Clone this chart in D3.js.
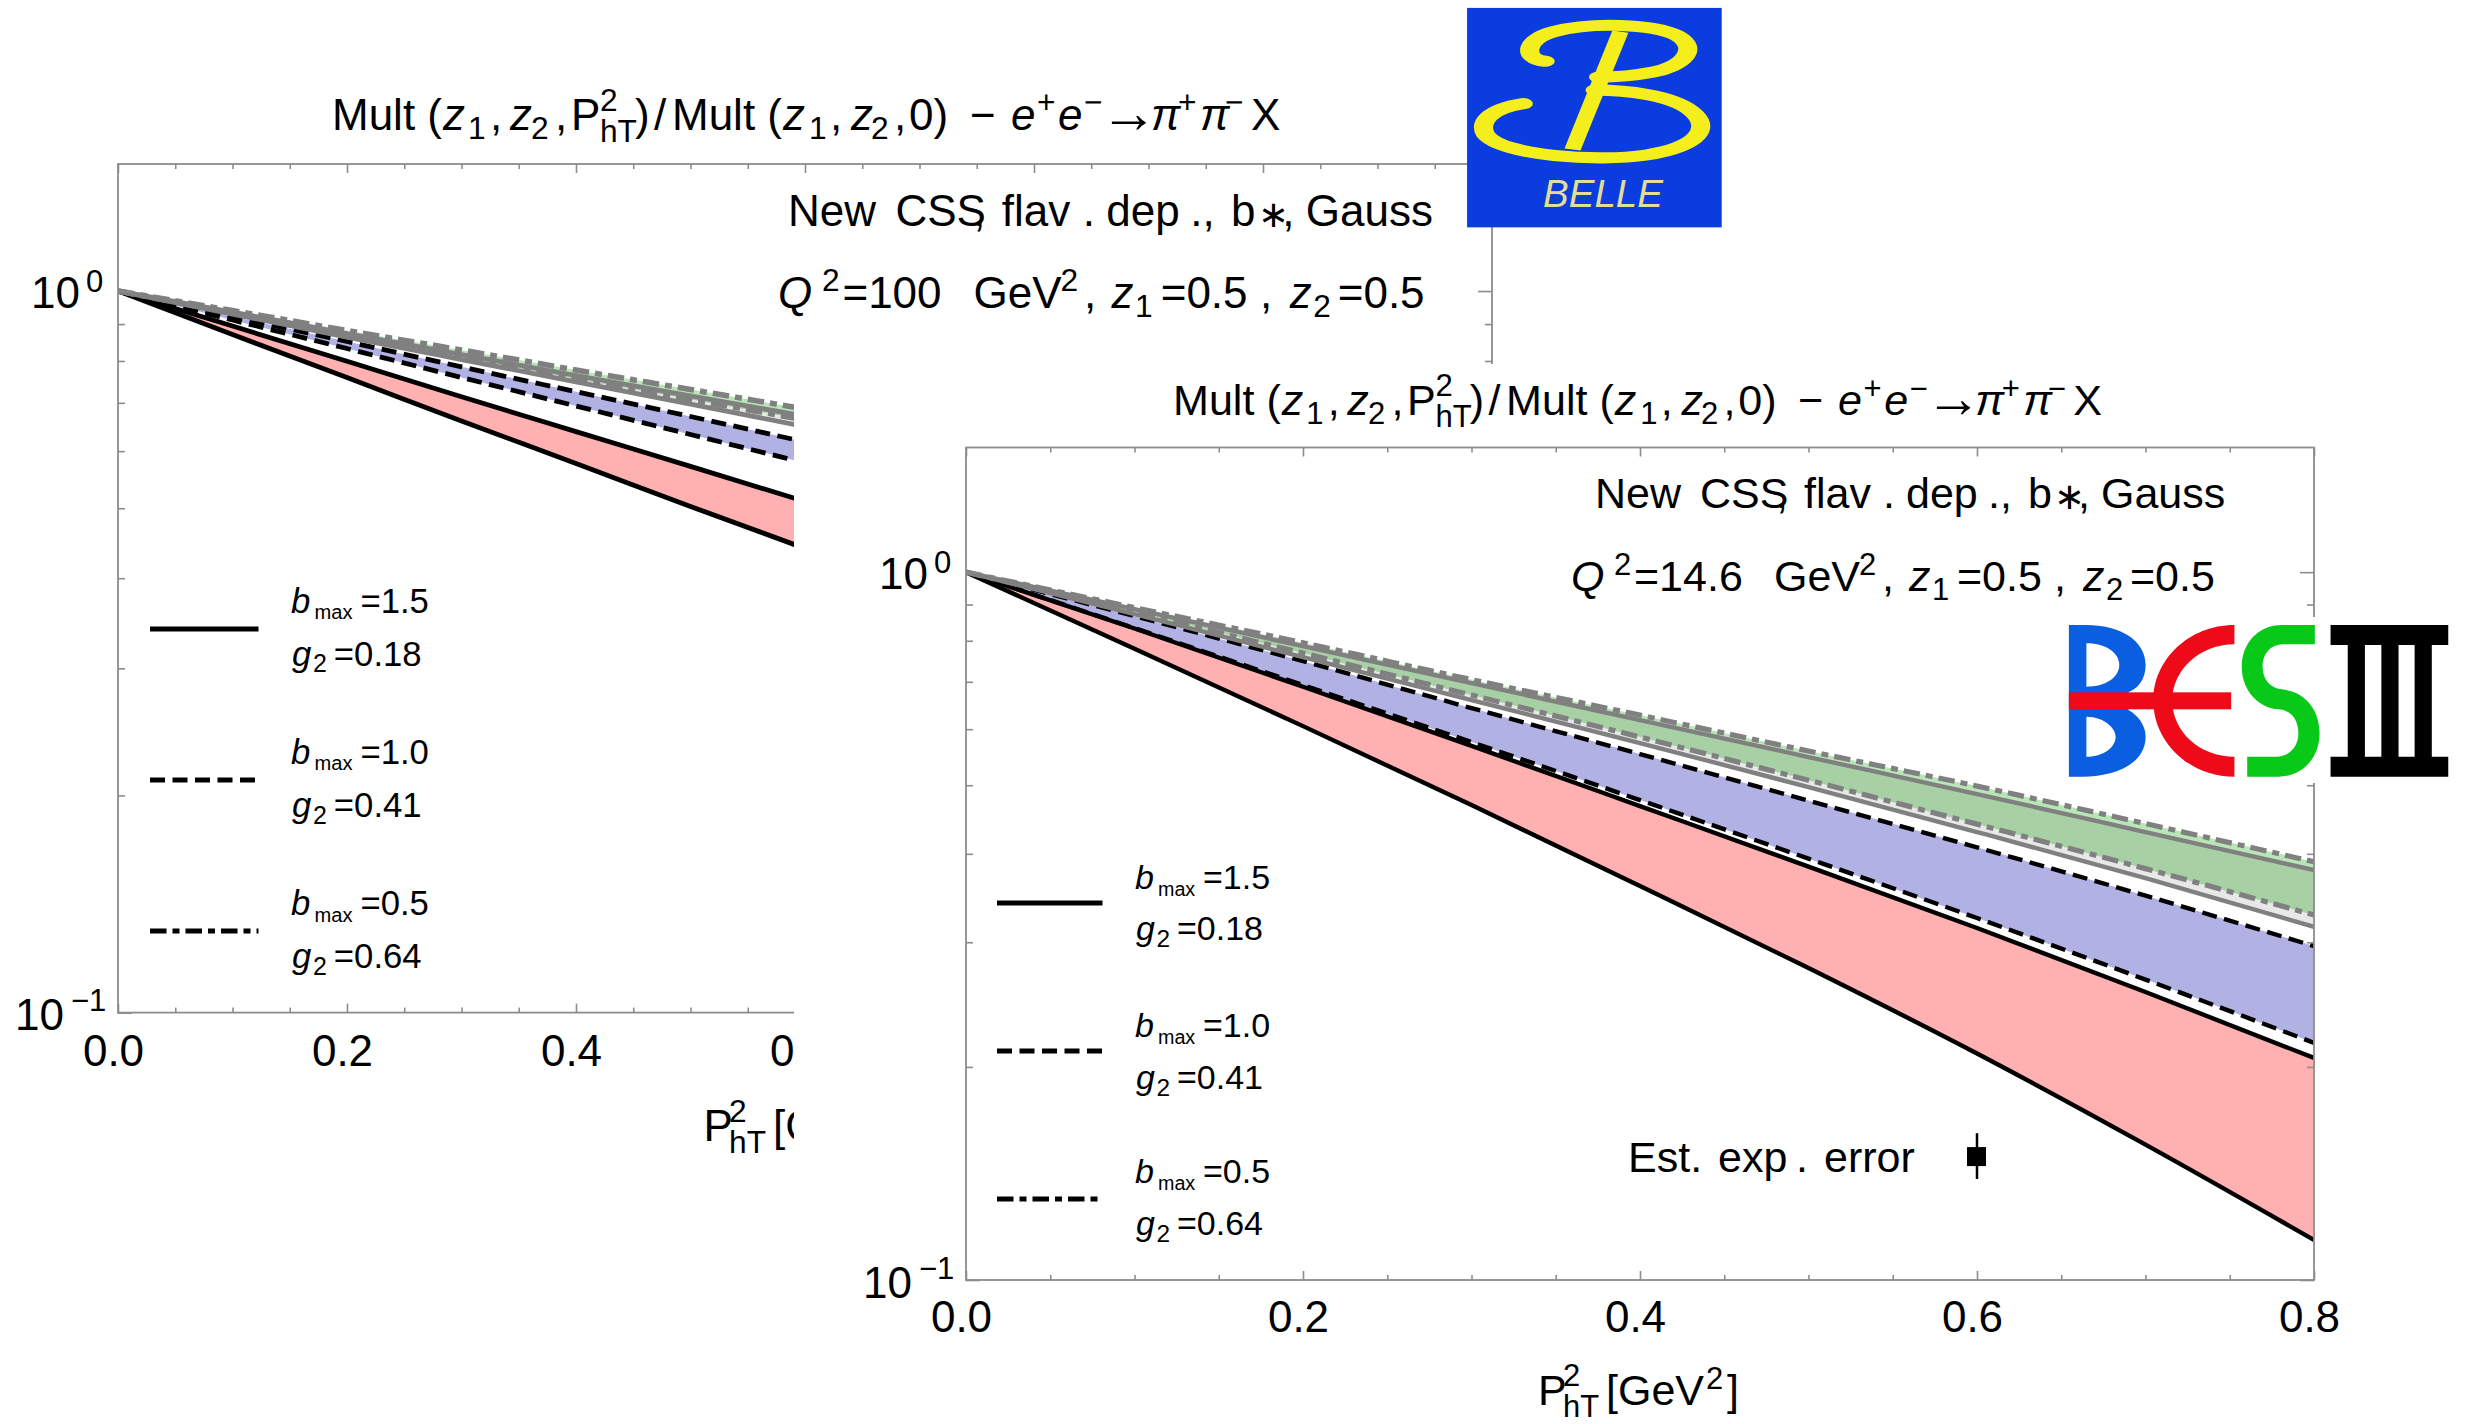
<!DOCTYPE html>
<html><head><meta charset="utf-8">
<style>html,body{margin:0;padding:0;background:#fff}svg{display:block}text{font-family:"Liberation Sans",Arial,sans-serif;fill:#000}</style>
<script src="https://cdnjs.cloudflare.com/ajax/libs/d3/7.8.5/d3.min.js"></script>
</head><body><svg id="c" width="2473" height="1424"></svg>
<script>
// ---------- data: multiplicity ratio vs P_hT^2 ----------
const frontX = [0,0.1,0.2,0.3,0.4,0.5,0.6,0.7,0.8];
const frontRedLow  = [1,.7796,.6060,.4688,.3602,.2759,.2089,.1553,.1139];
const frontRedHigh = [1,.8325,.6888,.5684,.4672,.3837,.3142,.2552,.2059];
const frontBlueLow = [1,.8335,.6925,.5754,.4764,.3938,.3246,.2657,.2163];
const frontBlueHigh= [1,.8667,.7486,.6426,.5533,.4756,.4085,.3491,.2963];
const frontGrayLow = [1,.8725,.7585,.6595,.5736,.4970,.4294,.3696,.3155];
const frontDotLow  = [1,.8779,.7684,.6704,.5848,.5083,.4406,.3812,.3278];
const frontGrayHigh= [1,.8866,.7861,.6969,.6180,.5480,.4859,.4294,.3795];
const frontDotHigh = [1,.8911,.7949,.7050,.6281,.5588,.4986,.4413,.3898];

const backX = [0,0.1,0.2,0.3,0.4,0.5,0.6];
const backRedLow  = [1,.8705,.7588,.6606,.5768,.5030,.4398];
const backRedHigh = [1,.8944,.7994,.7138,.6386,.5715,.5110];
const backBlueLow = [1,.9117,.8324,.7590,.6930,.6327,.5779];
const backBlueHigh= [1,.9219,.8513,.7852,.7253,.6701,.6179];
const backGrayLow = [1,.9292,.8635,.8036,.7482,.6973,.6490];
const backDotLow  = [1,.9322,.8677,.8089,.7552,.7074,.6628];
const backGrayHigh= [1,.9352,.8733,.8166,.7638,.7155,.6711];
const backDotHigh = [1,.9397,.8816,.8285,.7773,.7304,.6863];

const errX = 0.6, errY = 0.1494, errLow = 0.1389, errHigh = 0.1612;
const xMajorFront = [0,0.2,0.4,0.6,0.8];
const xMajorBack  = [0,0.2,0.4,0.6,0.8,1.0,1.2];
const xStep = 0.05;
const yDecades = [1,0.1];
const yMinor = [0.9,0.8,0.7,0.6,0.5,0.4,0.3,0.2];
const legendB = ["1.5","1.0","0.5"];
const legendG = ["0.18","0.41","0.64"];

// ---------- helpers ----------
const svg = d3.select('#c');
const DASH='15 7.5', DOT='16.5 6 7 6';
const GRAY='#808080', FRAME='#8c8c8c';
const K=.72;

// segments carry an offset "at", given for reference size "base" and scaled with the font size
function rich(g,x,y,size,base,segs){
  const f=size/base;
  segs.forEach(s=>{
    g.append('text').attr('x',x+s.at*f).attr('y',y+(s.dy||0)*size)
      .attr('font-size',size*(s.k||1)).attr('font-style',s.i?'italic':'normal').text(s.t);
  });
}
const sup=(t,at,o={})=>Object.assign({t,at,k:K,dy:-.38},o);
const sub=(t,at,o={})=>Object.assign({t,at,k:K,dy:.2},o);
const it=(t,at)=>({t,at,i:1});
const nm=(t,at)=>({t,at});

function title(g,x,y,size){
  rich(g,x,y,size,44,[nm('Mult (',0),it('z',111),sub('1',136),nm(',',158),it('z',178),sub('2',199),nm(',',223),
    nm('P',239),sup('2',268,{dy:-.44}),sub('hT',268,{dy:.27}),nm(')',303),nm('/',322),nm('Mult (',340),
    it('z',451),sub('1',477),nm(',',498),it('z',519),sub('2',539),nm(',',562),nm('0)',577),nm('−',638),
    it('e',679),sup('+',705),it('e',726),sup('−',752),{t:'→',at:768,k:1.3,dy:.04},it('π',819),sup('+',846),it('π',868),sup('−',893),nm('X',919)]);
}
function cssLine(g,x,y,size){
  rich(g,x,y,size,43,[nm('New',0),nm('CSS',105),nm(',',181),nm('flav',209),nm('.',288),nm('dep',311),nm('.',393),nm(',',405),nm('b',433),{t:'∗',at:459,k:.85,dy:.03},nm(',',483),nm('Gauss',506)]);
}
function qLine(g,x,y,q,size,shift){
  const s=shift;
  rich(g,x,y,size,43,[it('Q',0),sup('2',43),nm('='+q,63),nm('GeV',203-s),sup('2',288-s),nm(',',311-s),it('z',338-s),sub('1',361-s),nm('=0.5',386-s),nm(',',483-s),it('z',512-s),sub('2',535-s),nm('=0.5',559-s)]);
}
function xLabel(g,x,y,size){
  rich(g,x,y,size,43,[nm('P',0),sup('2',25,{dy:-.44}),sub('hT',25,{dy:.27}),nm('[GeV',68),sup('2',168),nm(']',189)]);
}
function legend(g,x0,x1,tx,lineY,bBase,gBase,size){
  const dashes=[null,DASH,DOT];
  legendB.forEach((b,i)=>{
    g.append('line').attr('x1',x0).attr('x2',x1).attr('y1',lineY[i]).attr('y2',lineY[i])
      .attr('stroke','#000').attr('stroke-width',5).attr('stroke-dasharray',dashes[i]);
    rich(g,tx,bBase[i],size,34,[it('b',0),{t:'max',at:23,k:.58,dy:.2},nm('='+b,68)]);
    rich(g,tx,gBase[i],size,34,[it('g',1),sub('2',21.5),nm('='+legendG[i],42)]);
  });
}

function panel(o){
  const g=svg.append('g');
  const x=d3.scaleLinear().domain(o.xDomain).range([o.L,o.R]);
  const y=d3.scaleLog().domain([0.1,1.5]).range([o.B,o.T]);
  const id='clip'+o.name;
  svg.append('defs').append('clipPath').attr('id',id).append('rect')
    .attr('x',o.L).attr('y',o.T).attr('width',o.R-o.L).attr('height',o.B-o.T);
  const plot=g.append('g').attr('clip-path',`url(#${id})`);
  const xs=o.xs;
  const area=(lo,hi,fill,op)=>plot.append('path')
    .attr('d',d3.area().x((d,i)=>x(xs[i])).y0((d,i)=>y(lo[i])).y1((d,i)=>y(hi[i])).curve(d3.curveMonotoneX)(xs))
    .attr('fill',fill).attr('fill-opacity',op==null?1:op);
  const line=(v,col,dash,w)=>plot.append('path')
    .attr('d',d3.line().x((d,i)=>x(xs[i])).y((d,i)=>y(v[i])).curve(d3.curveMonotoneX)(xs))
    .attr('fill','none').attr('stroke',col).attr('stroke-width',w).attr('stroke-dasharray',dash);
  const s=o.s,w=o.w;
  area(s.redLow,s.redHigh,'#ffb0b0');
  area(s.blueLow,s.blueHigh,'#b1b1e4');
  area(s.dotLow,s.dotHigh,'#b8e6b6');
  area(s.grayLow,s.grayHigh,'#000',.09);
  line(s.redLow,'#000',null,w); line(s.redHigh,'#000',null,w);
  line(s.blueLow,'#000',DASH,w); line(s.blueHigh,'#000',DASH,w);
  line(s.grayLow,GRAY,null,w); line(s.grayHigh,GRAY,null,w);
  line(s.dotLow,GRAY,DOT,w+.8); line(s.dotHigh,GRAY,DOT,w+.8);

  // frame and ticks through d3 axes
  const W=o.R-o.L,H=o.B-o.T;
  const minorX=d3.range(0,Math.round(o.xDomain[1]/xStep)+1).map(k=>k*xStep).filter(v=>!o.xMajor.some(m=>Math.abs(m-v)<1e-6));
  const axes=g.append('g').attr('class','axes');
  const ax=(gen,tr)=>{const a=axes.append('g').attr('transform',tr).call(gen);
    a.selectAll('line').attr('stroke',FRAME).attr('stroke-width',1.6);
    a.selectAll('.domain').remove(); return a;};
  const noText=()=>'';
  ax(d3.axisBottom(x).tickValues(minorX).tickSize(-5).tickFormat(noText),`translate(0,${o.B})`);
  ax(d3.axisTop(x).tickValues(minorX).tickSize(-5).tickFormat(noText),`translate(0,${o.T})`);
  const lab=ax(d3.axisBottom(x).tickValues(o.xMajor.filter(v=>v<=o.xLabelMax)).tickSize(-9).tickPadding(0).tickFormat(d3.format('.1f')),`translate(0,${o.B})`);
  lab.selectAll('text').attr('font-size',44).attr('dy',null).attr('dx',-5).attr('y',o.labelBase-o.B).style('font-family','"Liberation Sans"');
  ax(d3.axisBottom(x).tickValues(o.xMajor.filter(v=>v>o.xLabelMax)).tickSize(-9).tickFormat(noText),`translate(0,${o.B})`);
  ax(d3.axisTop(x).tickValues(o.xMajor).tickSize(-9).tickFormat(noText),`translate(0,${o.T})`);
  ax(d3.axisLeft(y).tickValues(yMinor).tickSize(-7).tickFormat(noText),`translate(${o.L},0)`);
  ax(d3.axisRight(y).tickValues(yMinor).tickSize(-7).tickFormat(noText),`translate(${o.R},0)`);
  ax(d3.axisLeft(y).tickValues(yDecades).tickSize(-14).tickFormat(noText),`translate(${o.L},0)`);
  ax(d3.axisRight(y).tickValues(yDecades).tickSize(-14).tickFormat(noText),`translate(${o.R},0)`);
  axes.append('rect').attr('x',o.L).attr('y',o.T).attr('width',W).attr('height',H)
    .attr('fill','none').attr('stroke',FRAME).attr('stroke-width',1.8);

  // y labels
  const yl=g.append('g');
  const d0=y(1),d1=y(0.1);
  yl.append('text').attr('x',o.L-87).attr('y',d0+o.y0Off).attr('font-size',44).text('10');
  yl.append('text').attr('x',o.L-32).attr('y',d0+o.y0Off-16).attr('font-size',31).text('0');
  yl.append('text').attr('x',o.L-103).attr('y',d1+o.y1Off).attr('font-size',44).text('10');
  yl.append('text').attr('x',o.L-47).attr('y',d1+o.y1Off-19).attr('font-size',31).text('−1');
  return {g,x,y};
}

// ---------- back panel (Belle) ----------
const back=panel({name:'b',L:118,R:1492,T:164,B:1012.6,xDomain:[0,1.2],xMajor:xMajorBack,xLabelMax:0.6,labelBase:1066,xs:backX,y0Off:17,y1Off:17.5,w:4.8,
  s:{redLow:backRedLow,redHigh:backRedHigh,blueLow:backBlueLow,blueHigh:backBlueHigh,grayLow:backGrayLow,grayHigh:backGrayHigh,dotLow:backDotLow,dotHigh:backDotHigh}});
title(svg,332,130,44);
cssLine(svg,788,226,44);
qLine(svg,778,308,'100',44,12);
legend(svg,150,258.5,291,[629,780,931],[612.5,763.5,914.6],[665.5,817,968],34.7);
xLabel(svg,703.5,1141,44);

// white sheet of the front slide
svg.append('rect').attr('x',794).attr('y',364).attr('width',1679).attr('height',1060).attr('fill','#fff');

// ---------- front panel (BESIII) ----------
const front=panel({name:'f',L:966,R:2314,T:447.5,B:1280,xDomain:[0,0.8],xMajor:xMajorFront,xLabelMax:0.8,labelBase:1332,xs:frontX,y0Off:17,y1Off:18,w:4.4,
  s:{redLow:frontRedLow,redHigh:frontRedHigh,blueLow:frontBlueLow,blueHigh:frontBlueHigh,grayLow:frontGrayLow,grayHigh:frontGrayHigh,dotLow:frontDotLow,dotHigh:frontDotHigh}});
title(svg,1173,415,43.1);
cssLine(svg,1595,508,43);
qLine(svg,1571,591,'14.6',43,0);
legend(svg,997,1102.5,1135,[903,1051,1199],[889,1037,1183],[940,1089,1235],34);
xLabel(svg,1538,1405,43);
rich(svg,1628,1172,43,43,[nm('Est.',0),nm('exp',90),nm('.',168),nm('error',196)]);
// estimated error marker
const ex=front.x(errX);
svg.append('line').attr('x1',ex).attr('x2',ex).attr('y1',front.y(errHigh)).attr('y2',front.y(errLow)).attr('stroke','#000').attr('stroke-width',2.5);
svg.append('rect').attr('x',ex-10).attr('y',front.y(errY)-9.5).attr('width',19).attr('height',19).attr('fill','#000');

// ---------- Belle logo ----------
const belle=svg.append('g').attr('transform','translate(1400,0) scale(0.6845,0.3954)');
belle.append('rect').attr('x',98).attr('y',20).attr('width',372).attr('height',555).attr('fill','#0a3ce0');
const by=belle.append('g').attr('fill','none').attr('stroke','#f4ee1c').attr('stroke-width',28).attr('stroke-linecap','round');
by.append('path').attr('d','M212,155 C180,150 180,100 225,80 C280,55 370,60 405,90 C440,125 410,170 370,182 C340,192 310,195 290,195');
by.append('path').attr('d','M180,262 C130,275 115,310 125,340 C150,395 290,410 360,392 C440,370 455,320 425,280 C395,240 330,228 285,228');
by.append('path').attr('d','M322,80 L252,378').attr('stroke-width',24).attr('stroke-linecap','butt');
belle.append('text').attr('transform','translate(209,524) scale(1,1.72)').attr('font-size',58).attr('font-style','italic').attr('textLength',175).attr('lengthAdjust','spacingAndGlyphs').style('fill','#e4dd98').text('BELLE');

// ---------- BESIII logo ----------
svg.append('rect').attr('x',2060).attr('y',617).attr('width',400).attr('height',166).attr('fill','#fff');
const bes=svg.append('g').attr('transform','translate(1900,600) scale(0.3655,0.3333)');
bes.append('path').attr('fill','#0a5ee0').attr('fill-rule','evenodd').attr('d','M462,75 H510 C600,75 672,120 672,195 C672,240 650,265 625,277 L625,330 C650,345 672,375 672,410 C672,490 590,530 500,530 H462 Z M510,130 V260 C565,260 600,230 600,195 C600,160 565,130 510,130 Z M510,350 V470 C560,470 590,440 590,410 C590,385 560,350 510,350 Z');
bes.append('path').attr('fill','#ee0a18').attr('d','M915,75 C790,75 693,180 693,302 C693,425 790,530 915,530 V470 C820,470 745,395 745,302 C745,210 820,133 915,133 Z');
bes.append('rect').attr('x',462).attr('y',277).attr('width',444).attr('height',51).attr('fill','#ee0a18');
bes.append('path').attr('fill','#08c818').attr('d','M1135,75 H1045 C980,75 935,130 935,200 C935,275 985,325 1035,328 C1070,330 1090,360 1090,400 C1090,440 1065,470 1030,470 H950 V530 H1035 C1100,530 1148,475 1148,400 C1148,330 1110,275 1045,268 C1015,265 992,240 992,200 C992,160 1015,133 1050,133 H1135 Z');
bes.append('path').attr('fill','#000').attr('d','M1178,75 H1500 V135 H1455 V470 H1500 V530 H1178 V470 H1225 V135 H1178 Z M1272,135 V470 H1317 V135 Z M1364,135 V470 H1408 V135 Z').attr('fill-rule','evenodd');
</script></body></html>
